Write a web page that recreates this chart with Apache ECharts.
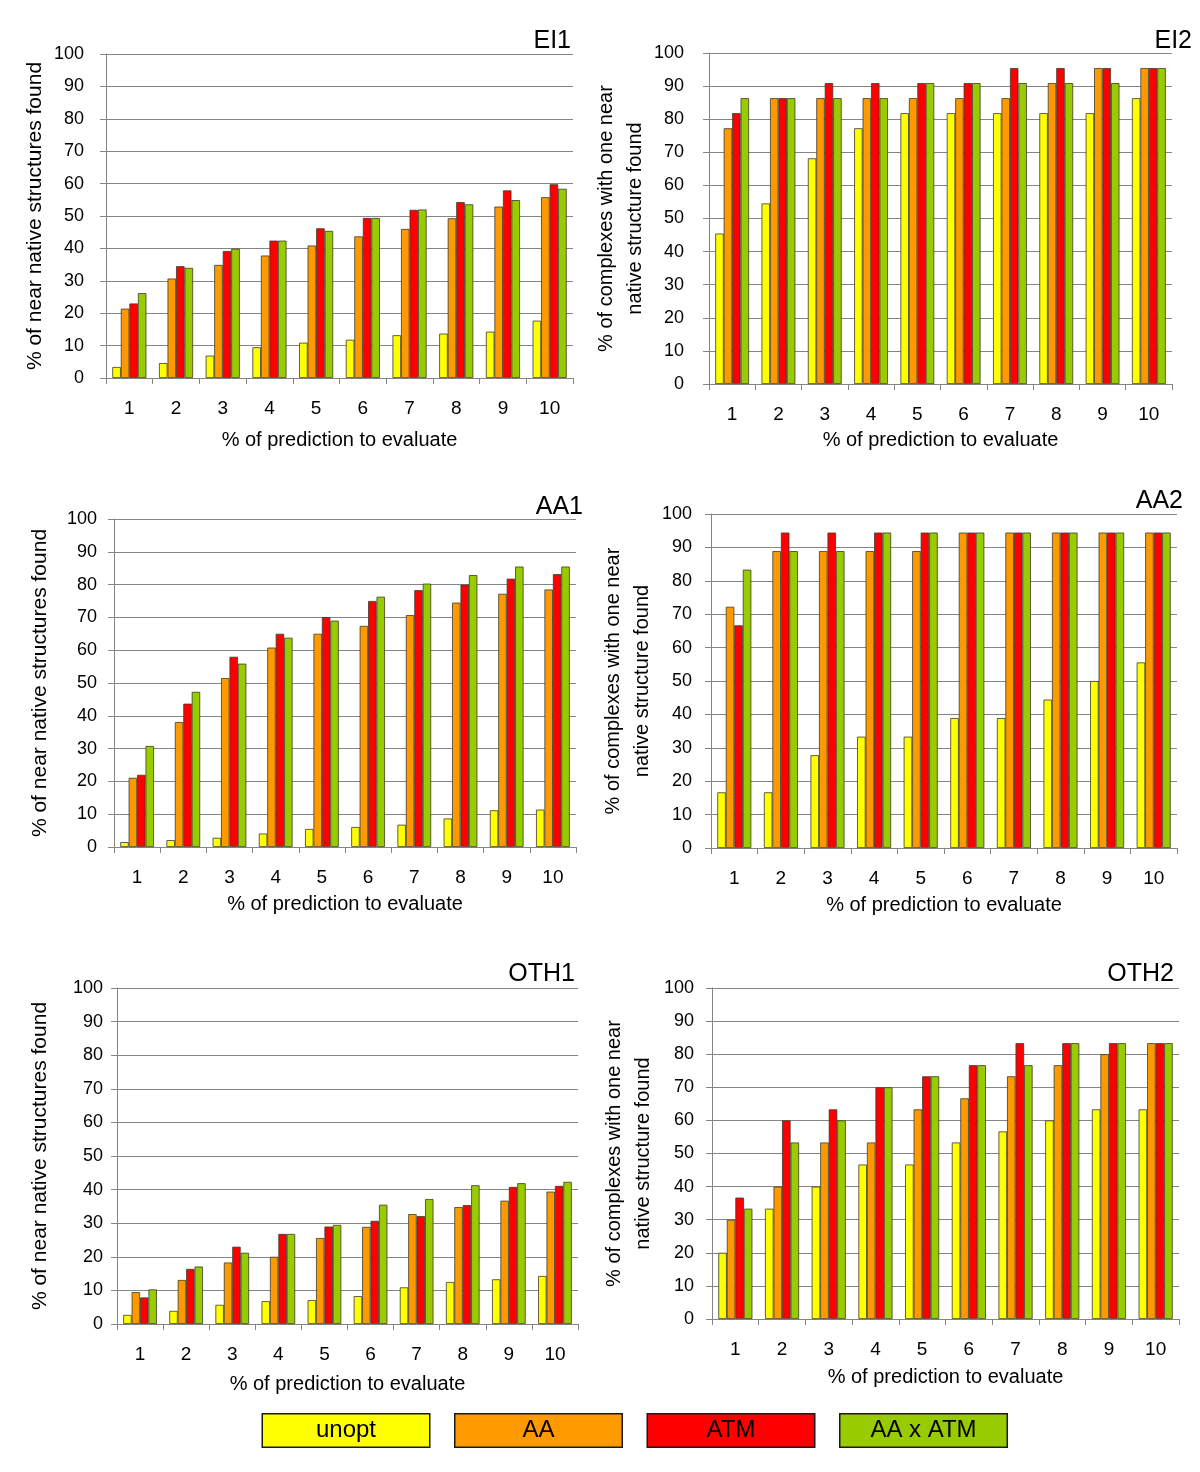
<!DOCTYPE html>
<html><head><meta charset="utf-8">
<script src="https://cdn.jsdelivr.net/npm/echarts@6/dist/echarts.min.js"></script>
<style>html,body{margin:0;padding:0;background:#fff}#c{width:1200px;height:1472px}</style>
</head><body><div id="c"></div><script>
// ---- data ----
const categories = ['1','2','3','4','5','6','7','8','9','10'];
const seriesNames = ['unopt','AA','ATM','AA x ATM'];
const panelTitles = ['EI1','EI2','AA1','AA2','OTH1','OTH2'];
const yNameA = '% of near native structures found';
const yNameB = '% of complexes with one near\nnative structure found';
const xName = '% of prediction to evaluate';

const ei1Unopt = [3.4, 4.6, 6.9, 9.5, 10.9, 11.8, 13.2, 13.7, 14.3, 17.7];
const ei1AA    = [21.4, 30.7, 34.9, 37.8, 40.9, 43.7, 46.0, 49.3, 52.9, 55.8];
const ei1ATM   = [23.0, 34.5, 39.2, 42.4, 46.2, 49.4, 51.9, 54.3, 57.9, 59.8];
const ei1AxA   = [26.2, 34.0, 39.9, 42.4, 45.4, 49.4, 52.0, 53.6, 54.9, 58.4];

const ei2Unopt = [45.45, 54.55, 68.18, 77.27, 81.82, 81.82, 81.82, 81.82, 81.82, 86.36];
const ei2AA    = [77.27, 86.36, 86.36, 86.36, 86.36, 86.36, 86.36, 90.91, 95.45, 95.45];
const ei2ATM   = [81.82, 86.36, 90.91, 90.91, 90.91, 90.91, 95.45, 95.45, 95.45, 95.45];
const ei2AxA   = [86.36, 86.36, 86.36, 86.36, 90.91, 90.91, 90.91, 90.91, 90.91, 95.45];

const aa1Unopt = [1.5, 2.1, 2.8, 4.1, 5.5, 6.1, 6.8, 8.7, 11.2, 11.4];
const aa1AA    = [21.1, 38.1, 51.5, 60.8, 65.0, 67.4, 70.7, 74.5, 77.2, 78.5];
const aa1ATM   = [22.0, 43.7, 58.0, 65.0, 70.1, 75.0, 78.3, 80.0, 81.8, 83.2];
const aa1AxA   = [30.8, 47.3, 55.9, 63.8, 69.0, 76.3, 80.3, 82.9, 85.5, 85.5];

const aa2Unopt = [16.67, 16.67, 27.78, 33.33, 33.33, 38.89, 38.89, 44.44, 50.0, 55.56];
const aa2AA    = [72.22, 88.89, 88.89, 88.89, 88.89, 94.44, 94.44, 94.44, 94.44, 94.44];
const aa2ATM   = [66.67, 94.44, 94.44, 94.44, 94.44, 94.44, 94.44, 94.44, 94.44, 94.44];
const aa2AxA   = [83.33, 88.89, 88.89, 94.44, 94.44, 94.44, 94.44, 94.44, 94.44, 94.44];

const oth1Unopt = [2.7, 3.9, 5.7, 6.8, 7.1, 8.3, 10.9, 12.5, 13.3, 14.3];
const oth1AA    = [9.5, 13.1, 18.3, 20.0, 25.6, 28.9, 32.7, 34.8, 36.7, 39.4];
const oth1ATM   = [7.9, 16.4, 23.0, 26.8, 29.0, 30.7, 32.1, 35.4, 40.8, 41.1];
const oth1AxA   = [10.3, 17.1, 21.2, 26.8, 29.5, 35.5, 37.2, 41.3, 41.9, 42.3];

const oth2Unopt = [20.0, 33.33, 40.0, 46.67, 46.67, 53.33, 56.67, 60.0, 63.33, 63.33];
const oth2AA    = [30.0, 40.0, 53.33, 53.33, 63.33, 66.67, 73.33, 76.67, 80.0, 83.33];
const oth2ATM   = [36.67, 60.0, 63.33, 70.0, 73.33, 76.67, 83.33, 83.33, 83.33, 83.33];
const oth2AxA   = [33.33, 53.33, 60.0, 70.0, 73.33, 76.67, 76.67, 83.33, 83.33, 83.33];

const panelData = [
  [ei1Unopt, ei1AA, ei1ATM, ei1AxA],
  [ei2Unopt, ei2AA, ei2ATM, ei2AxA],
  [aa1Unopt, aa1AA, aa1ATM, aa1AxA],
  [aa2Unopt, aa2AA, aa2ATM, aa2AxA],
  [oth1Unopt, oth1AA, oth1ATM, oth1AxA],
  [oth2Unopt, oth2AA, oth2ATM, oth2AxA]
];

// ---- styling / layout ----
const colors = ['#FFFF00', '#FF9900', '#FF0000', '#99CC00'];
const FONT = "'Liberation Sans', Arial, sans-serif";
const NARROW = "'Liberation Sans Narrow', 'Liberation Sans', Arial, sans-serif";
const GRAY = '#858585';

const layout = [
  {left:106, top:54,  width:467, height:324, titleRight:629, titleTop:29, yGap:56, yLabelMargin:22, xNameGap:52, yName:yNameA},
  {left:709, top:53,  width:463, height:331, titleRight:8,   titleTop:29, yGap:58, yLabelMargin:25, xNameGap:46, yName:yNameB},
  {left:114, top:519, width:462, height:328, titleRight:617, titleTop:495, yGap:59, yLabelMargin:17, xNameGap:47, yName:yNameA},
  {left:711, top:514, width:466, height:334, titleRight:17,  titleTop:489, yGap:54, yLabelMargin:19, xNameGap:47, yName:yNameB},
  {left:117, top:988, width:461, height:336, titleRight:625, titleTop:962, yGap:62, yLabelMargin:14, xNameGap:50, yName:yNameA},
  {left:712, top:988, width:467, height:331, titleRight:26,  titleTop:962, yGap:54, yLabelMargin:18, xNameGap:48, yName:yNameB}
];

const grid = [], xAxis = [], yAxis = [], title = [], series = [];
layout.forEach((L, i) => {
  grid.push({left:L.left, top:L.top, width:L.width, height:L.height, containLabel:false});
  title.push({text: panelTitles[i], right: L.titleRight, top: L.titleTop, padding: 0,
    textStyle:{fontFamily:FONT, fontSize:25, fontWeight:'normal', color:'#000'}});
  xAxis.push({type:'category', gridIndex:i, data:categories,
    name:xName, nameLocation:'middle', nameGap:L.xNameGap,
    nameTextStyle:{fontFamily:FONT, fontSize:20, color:'#000'},
    axisLine:{show:true, lineStyle:{color:GRAY, width:1}},
    axisTick:{show:true, length:6, alignWithLabel:false, lineStyle:{color:GRAY}},
    axisLabel:{fontFamily:FONT, fontSize:19, color:'#000', margin:21},
    splitLine:{show:false}
  });
  yAxis.push({type:'value', gridIndex:i, min:0, max:100, interval:10,
    name:L.yName, nameLocation:'middle', nameGap:L.yGap, nameRotate:90,
    nameTextStyle:{fontFamily:FONT, fontSize:i % 2 === 0 ? 21 : 20, color:'#000', lineHeight:29, align:'center'},
    axisLine:{show:true, lineStyle:{color:GRAY, width:1}},
    axisTick:{show:true, length:6, lineStyle:{color:GRAY}},
    axisLabel:{fontFamily:FONT, fontSize:18, color:'#000', margin:L.yLabelMargin},
    splitLine:{show:true, lineStyle:{color:GRAY, width:1}}
  });
  panelData[i].forEach((vals, s) => {
    series.push({type:'bar', name:seriesNames[s], xAxisIndex:i, yAxisIndex:i,
      data: vals, barGap:'0%', barCategoryGap:'27%',
      itemStyle:{color:colors[s], borderColor:'#3b3b2b', borderWidth:0.8},
      emphasis:{disabled:true}, animation:false});
  });
});

const richKeys = ['u','a','t','g'];
const rich = {};
seriesNames.forEach((n, k) => {
  rich[richKeys[k]] = {width:166, height:32, lineHeight:32, align:'center', verticalAlign:'middle',
    backgroundColor:colors[k], borderColor:'#1a1a1a', borderWidth:1.5,
    fontFamily:NARROW, fontSize:24, color:'#000'};
});

const chart = echarts.init(document.getElementById('c'), null, {renderer:'canvas', width:1200, height:1472});
chart.setOption({
  animation:false,
  backgroundColor:'#fff',
  title, grid, xAxis, yAxis, series,
  legend:{data:seriesNames, left:257, top:1413, padding:0, itemGap:19,
    icon:'none', itemWidth:1, itemHeight:1, selectedMode:false,
    formatter: name => '{' + richKeys[seriesNames.indexOf(name)] + '|' + name + '}',
    textStyle:{rich}}
});
</script></body></html>
